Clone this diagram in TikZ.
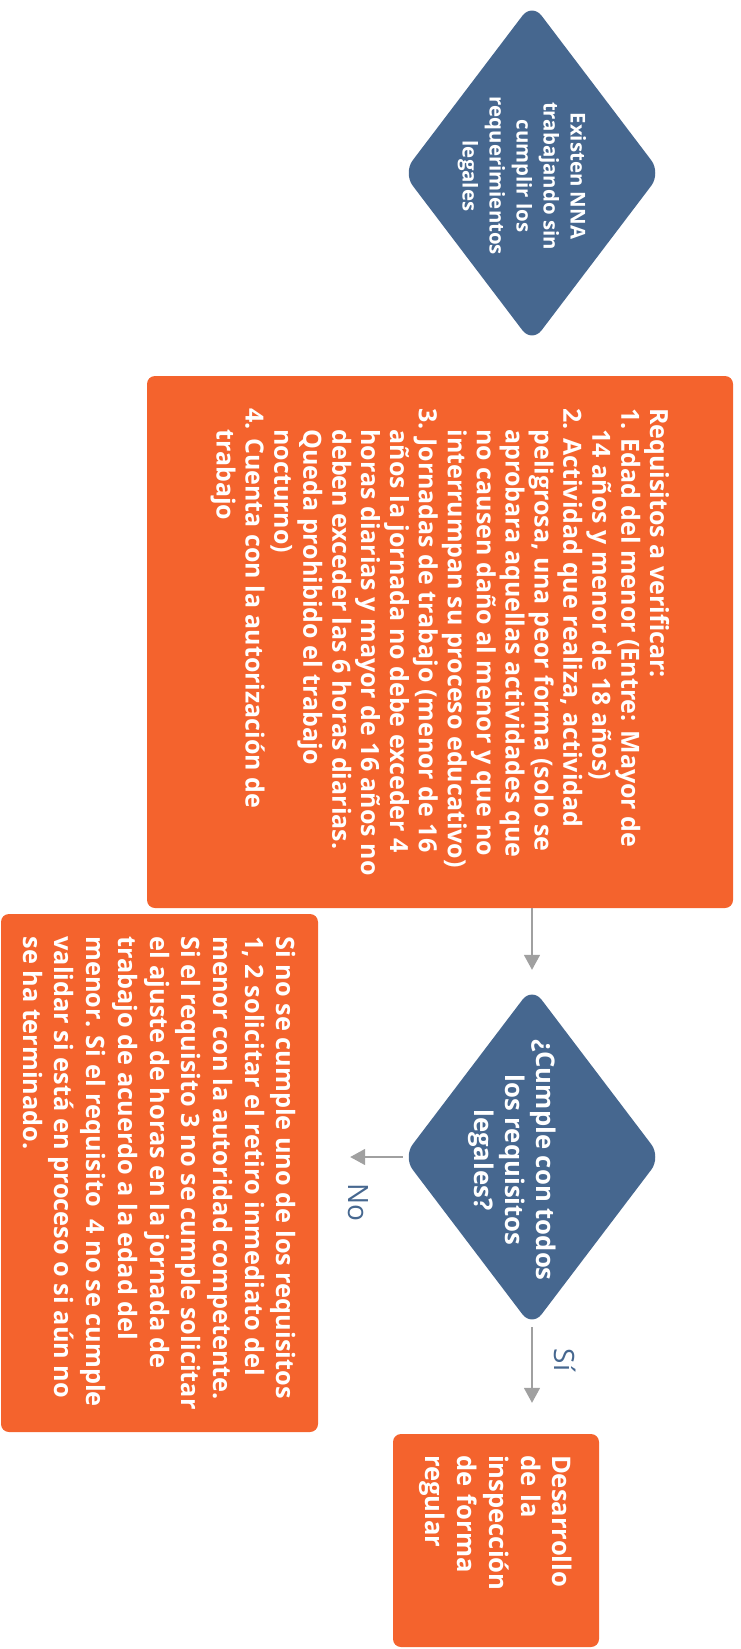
\documentclass[tikz,border=0pt]{standalone}
\usepackage{fontspec}
\setmainfont{Open Sans}
\usetikzlibrary{shapes.geometric,arrows.meta}
\definecolor{naranja}{HTML}{F4632D}
\definecolor{azul}{HTML}{46678F}
\definecolor{gris}{HTML}{A0A0A0}
\newcommand{\sangria}{\hspace*{0.85em}}
\tikzset{
    caja/.style={rectangle, rounded corners=8pt, fill=naranja, text=white,
        rotate=-90, inner sep=0pt, align=left},
    decision/.style={diamond, rounded corners=16pt, fill=azul, rotate=-90,
        inner sep=0pt, minimum width=340pt, minimum height=258pt},
    textodecision/.style={text=white, rotate=-90, align=center, inner sep=0pt},
    flecha/.style={draw=gris, line width=1.6pt, -{Triangle[width=16pt,length=15pt]}},
    etiqueta/.style={text=azul, rotate=-90, inner sep=0pt,
        font=\fontsize{28}{32}\selectfont},
}

\begin{document}
\begin{tikzpicture}[x=1pt, y=-1pt]
    \useasboundingbox (0,0) rectangle (741,1649);

    % primera pregunta
    \node[decision] (existen) at (532,173) {};
    \node[textodecision, font=\fontsize{20.4}{27}\selectfont\bfseries] (existentxt) at (522,176)
        {Existen NNA\\trabajando sin\\cumplir los\\requerimientos\\legales};

    % requisitos
    \node[caja, minimum width=532pt, minimum height=586pt,
          font=\fontsize{25}{28.9}\selectfont\bfseries] (requisitos) at (440,642)
        {Requisitos a verificar:\\
         1. Edad del menor (Entre: Mayor de\\
         \sangria 14 años y menor de 18 años)\\
         2. Actividad que realiza, actividad\\
         \sangria peligrosa, una peor forma (solo se\\
         \sangria aprobara aquellas actividades que\\
         \sangria no causen daño al menor y que no\\
         \sangria interrumpan su proceso educativo)\\
         3. Jornadas de trabajo (menor de 16\\
         \sangria años la jornada no debe exceder 4\\
         \sangria horas diarias y mayor de 16 años no\\
         \sangria deben exceder las 6 horas diarias.\\
         \sangria Queda prohibido el trabajo\\
         \sangria nocturno)\\
         4. Cuenta con la autorización de\\
         \sangria trabajo};

    % segunda pregunta
    \node[decision] (cumple) at (532,1157) {};
    \node[textodecision, font=\fontsize{25.7}{31}\selectfont\bfseries] (cumpletxt) at (512,1160)
        {¿Cumple con todos\\los requisitos\\legales?};

    % rama no
    \node[caja, minimum width=518pt, minimum height=317pt,
          font=\fontsize{25.3}{31.7}\selectfont\bfseries] (retiro) at (159.5,1173)
        {Si no se cumple uno de los requisitos\\
         1, 2 solicitar el retiro inmediato del\\
         menor con la autoridad competente.\\
         Si el requisito 3 no se cumple solicitar\\
         el ajuste de horas en la jornada de\\
         trabajo de acuerdo a la edad del\\
         menor. Si el requisito~ 4 no se cumple\\
         validar si está en proceso o si aún no\\
         se ha terminado.};

    % rama si
    \node[caja, minimum width=213pt, minimum height=206pt, inner xsep=21pt, text width=171pt,
          font=\fontsize{25.6}{31.7}\selectfont\bfseries] (desarrollo) at (496,1540.5)
        {Desarrollo\\de la\\inspección\\de forma\\regular};

    \draw[flecha, shorten >=17pt] (requisitos.east -| cumple.west) -- (cumple.west);
    \draw[flecha, shorten >=32pt] (cumple.south) -- (retiro.north |- cumple.south);
    \draw[flecha, shorten >=31pt] (cumple.east) -- (cumple.east |- desarrollo.west);

    \node[etiqueta] (no) at (358,1202) {No};
    \node[etiqueta] (si) at (565,1360) {Sí};
\end{tikzpicture}
\end{document}
